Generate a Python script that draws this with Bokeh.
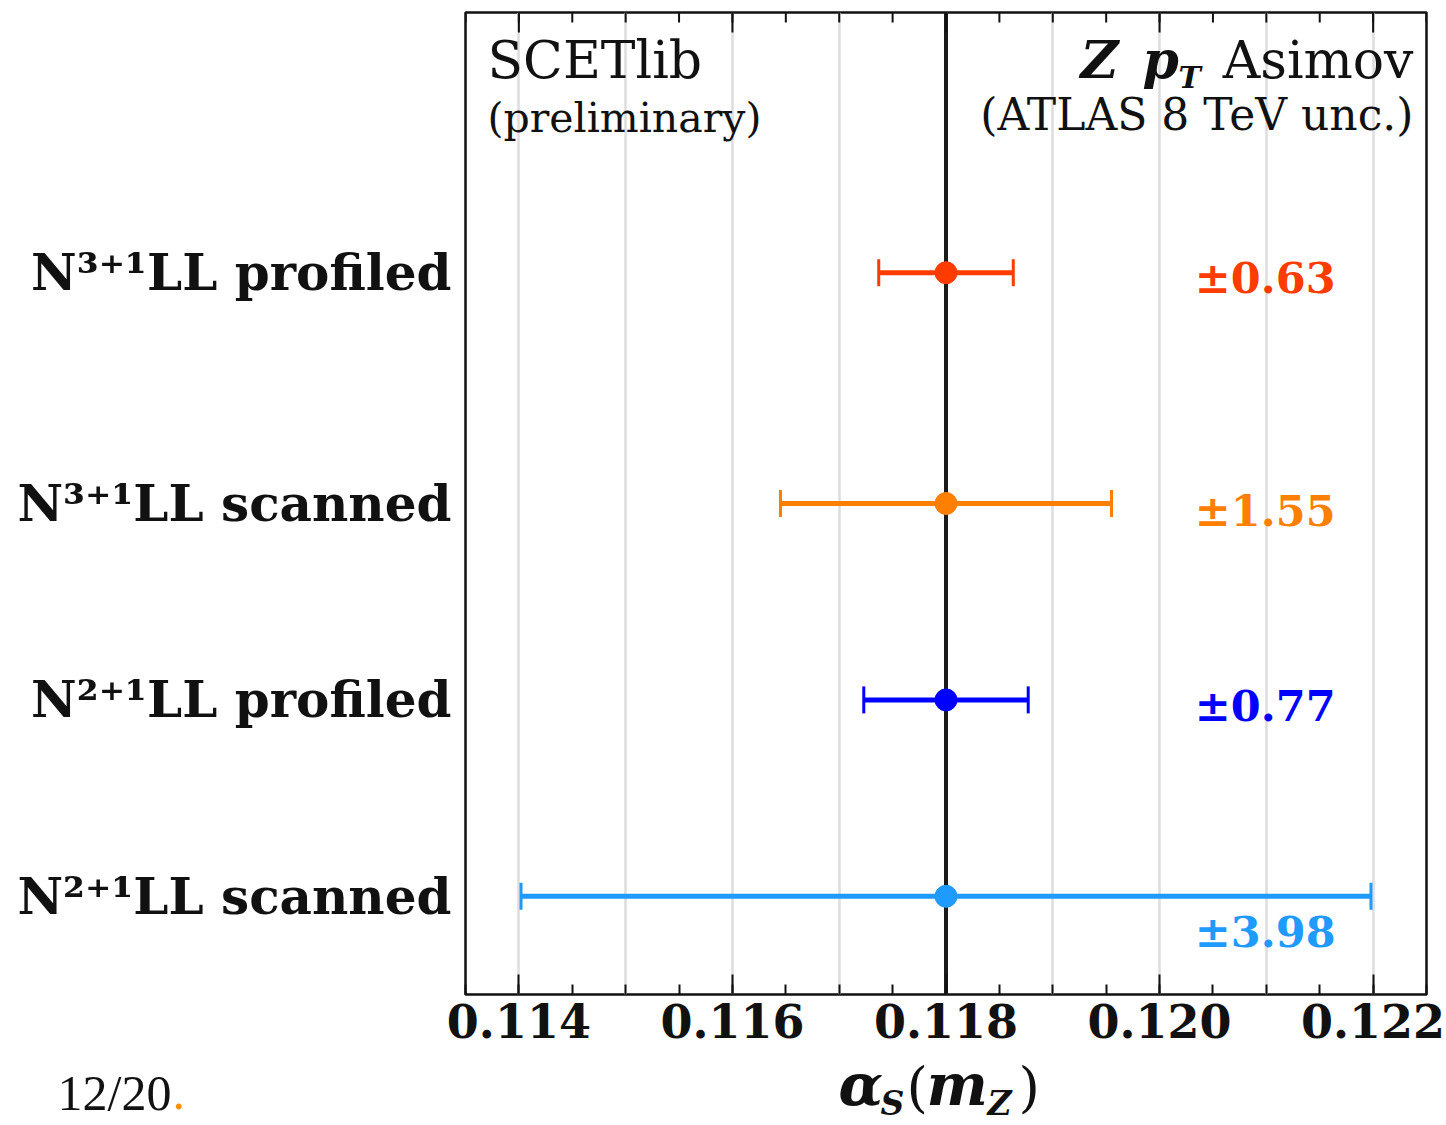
import numpy as np
from bokeh.plotting import figure
from bokeh.layouts import column
from bokeh.models import (Range1d, FixedTicker, Span, Label,
                          ColumnDataSource, PrintfTickFormatter)
from bokeh.embed import file_html
from bokeh.resources import INLINE
from bokeh.core.properties import value

# --- data -----------------------------------------------------------------
orders = ["N³⁺¹LL profiled", "N³⁺¹LL scanned", "N²⁺¹LL profiled", "N²⁺¹LL scanned"]
central = [0.118, 0.118, 0.118, 0.118]
uncert = [0.00063, 0.00155, 0.00077, 0.00398]
colors = ["#ff3c00", "#ff8000", "#0000ff", "#1f9aff"]
reference_alpha = 0.118

x_major = [0.114, 0.116, 0.118, 0.120, 0.122]
x_grid = [0.114, 0.115, 0.116, 0.117, 0.118, 0.119, 0.120, 0.121, 0.122]
x_minor = [0.1135, 0.1140, 0.1145, 0.1150, 0.1155, 0.1160, 0.1165, 0.1170,
           0.1175, 0.1180, 0.1185, 0.1190, 0.1195, 0.1200, 0.1205, 0.1210,
           0.1215, 0.1220, 0.1225]

# --- layout -----------------------------------------------------------------
W, H = 1446, 1125
MAIN_H = 1048
FRAME_LEFT, FRAME_TOP, FRAME_RIGHT, FRAME_BOTTOM = 465, 12, 1426, 994
Y_LO, Y_HI = 0, 10
row_y = [7.35, 5.0, 3.0, 1.0]
value_text_x = 0.12033
value_text_dy = [5, 7, 6, 36]
BASE_SHIFT = 0.36   # baseline correction, in em

SERIF = "DejaVu Serif"
INK = "#111111"

p = figure(width=W, height=MAIN_H,
           x_range=Range1d(0.1135, 0.1225), y_range=Range1d(Y_LO, Y_HI),
           output_backend="svg", toolbar_location=None,
           min_border_left=FRAME_LEFT, min_border_right=W - FRAME_RIGHT,
           min_border_top=FRAME_TOP, min_border_bottom=MAIN_H - FRAME_BOTTOM)
p.frame_align = False
p.background_fill_color = "white"
p.border_fill_color = "white"
p.outline_line_color = INK
p.outline_line_width = 2.5

# bottom axis with labels, ticks pointing inwards
xa = p.xaxis[0]
xa.ticker = FixedTicker(ticks=x_major, minor_ticks=x_minor)
xa.formatter = PrintfTickFormatter(format="%.3f")
xa.axis_line_color = None
xa.major_tick_in = 20
xa.major_tick_out = 0
xa.minor_tick_in = 10
xa.minor_tick_out = 0
xa.major_tick_line_width = 2
xa.minor_tick_line_width = 2
xa.major_tick_line_color = INK
xa.minor_tick_line_color = INK
xa.major_label_text_font = SERIF
xa.major_label_text_font_style = "bold"
xa.major_label_text_font_size = "46px"
xa.major_label_text_color = INK
xa.major_label_standoff = 9

# mirrored ticks along the top edge (half of each dash is clipped by the frame)
p.scatter(x=x_minor, y=[Y_HI] * len(x_minor), marker="dash", angle=np.pi / 2,
          size=20, line_color=INK, line_width=2)
p.scatter(x=x_major, y=[Y_HI] * len(x_major), marker="dash", angle=np.pi / 2,
          size=40, line_color=INK, line_width=2)

# row labels on the left
ya = p.yaxis[0]
ya.ticker = FixedTicker(ticks=row_y)
ya.major_label_overrides = {y: name for y, name in zip(row_y, orders)}
ya.axis_line_color = None
ya.major_tick_line_color = None
ya.minor_tick_line_color = None
ya.major_label_text_font = SERIF
ya.major_label_text_font_style = "bold"
ya.major_label_text_font_size = "50px"
ya.major_label_text_color = INK
ya.major_label_standoff = 8

p.xgrid.ticker = FixedTicker(ticks=x_grid)
p.xgrid.grid_line_color = "#dddddd"
p.xgrid.grid_line_width = 2.5
p.ygrid.visible = False

p.add_layout(Span(location=reference_alpha, dimension="height",
                  line_color="#1a1a1a", line_width=4, level="underlay"))

src = ColumnDataSource(dict(
    y=row_y, c=central, err=uncert, color=colors,
    lo=[c - e for c, e in zip(central, uncert)],
    hi=[c + e for c, e in zip(central, uncert)],
    txt=["±%.2f" % (e * 1000) for e in uncert],
    tx=[value_text_x] * len(uncert),
    dy=value_text_dy,
))

p.segment(x0="lo", y0="y", x1="hi", y1="y", source=src,
          line_color="color", line_width=5)
p.scatter(x="lo", y="y", source=src, marker="dash", angle=np.pi / 2,
          size=27, line_color="color", line_width=3)
p.scatter(x="hi", y="y", source=src, marker="dash", angle=np.pi / 2,
          size=27, line_color="color", line_width=3)
p.scatter(x="c", y="y", source=src, marker="circle", size=22,
          fill_color="color", line_color="color")

p.text(x="tx", y="y", text="txt", source=src, y_offset="dy",
       text_color="color", text_font=value(SERIF), text_font_style="bold",
       text_font_size="43px", text_align="left", text_baseline="alphabetic")


def put(text, xc, yc, size, style="normal", color=INK, align="left",
        font=SERIF):
    """Place text inside the frame at canvas pixel position (yc = baseline)."""
    yb = yc - BASE_SHIFT * size
    p.add_layout(Label(x=xc - FRAME_LEFT, y=FRAME_BOTTOM - yb,
                       x_units="screen", y_units="screen", text=text,
                       text_font=font, text_font_size=f"{size}px",
                       text_font_style=style, text_color=color,
                       text_align=align, text_baseline="alphabetic"))


# corner captions
put("SCETlib", 487, 78, 52)
put("(preliminary)", 487, 132, 41)
put("Z", 1080, 78, 52, style="bold italic")
put("p", 1142, 78, 52, style="bold italic")
put("T", 1178, 88, 30, style="bold italic")
put("Asimov", 1413, 78, 52, align="right")
put("(ATLAS 8 TeV unc.)", 1413, 130, 44, align="right")

# --- strip under the axis: axis title and page number -----------------------
q = figure(width=W, height=H - MAIN_H,
           x_range=Range1d(0, W), y_range=Range1d(H, MAIN_H),
           output_backend="svg", toolbar_location=None,
           min_border=0, x_axis_location=None, y_axis_location=None)
q.frame_align = False
q.outline_line_color = None
q.grid.visible = False
q.background_fill_color = "white"
q.border_fill_color = "white"

caption = dict(
    txt=["α", "S", "(", "m", "Z", ")", "12/20", "."],
    x=[838, 880, 906, 926, 987, 1018, 57, 172],
    base=[1105, 1115, 1106, 1105, 1115, 1106, 1110, 1110],
    size=[58, 33, 55, 58, 33, 55, 50, 50],
    style=["bold italic", "bold italic", "normal", "bold italic",
           "bold italic", "normal", "normal", "normal"],
    font=[SERIF] * 6 + ["Liberation Serif"] * 2,
    color=[INK] * 7 + ["#ff9000"],
)
caption["y"] = [b - BASE_SHIFT * s for b, s in zip(caption["base"], caption["size"])]
caption["fs"] = [f"{s}px" for s in caption["size"]]
q.text(x="x", y="y", text="txt", source=ColumnDataSource(caption),
       text_font="font", text_font_size="fs", text_font_style="style",
       text_color="color", text_align="left", text_baseline="alphabetic")

open("out.html", "w").write(file_html(column(p, q, spacing=0), INLINE))
